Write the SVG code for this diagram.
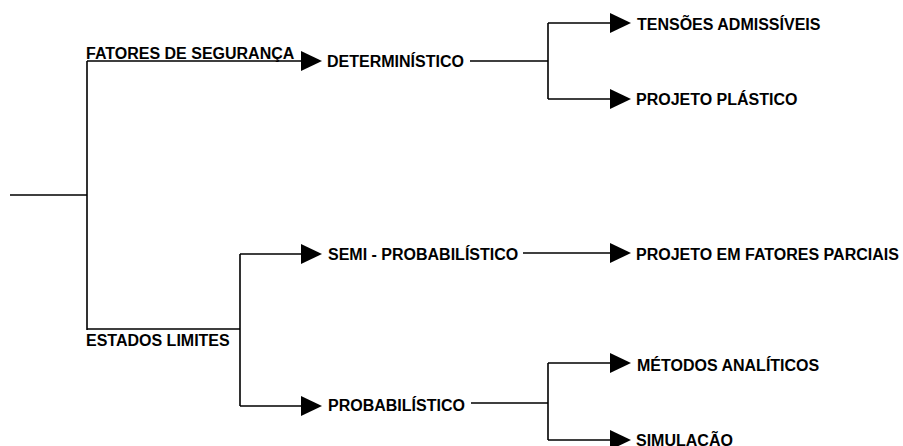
<svg xmlns="http://www.w3.org/2000/svg" width="903" height="446" viewBox="0 0 903 446">
<defs>
<style>
.t{font-family:"Liberation Sans",Arial,sans-serif;font-weight:bold;font-size:16px;fill:#000}
.c{fill:none;stroke:#000;stroke-width:1.6}
.a{fill:#000}
</style>
<polygon id="ah" points="0,-10 21,0 0,10" class="a"/>
</defs>
<rect width="903" height="446" fill="#fff"/>
<g id="connectors">
<path class="c" d="M10,195 H87 M87,61 V330 M87,61 H301 M87,329 H240 M240,254 V406 M240,254 H301 M240,406 H301"/>
<path class="c" d="M470,61 H548 M548,23 V99 M548,23 H611 M548,99 H611"/>
<path class="c" d="M523,253 H611"/>
<path class="c" d="M471,403 H548 M548,363 V440 M548,363 H611 M548,440 H611"/>
<use href="#ah" x="301" y="61"/>
<use href="#ah" x="301" y="254"/>
<use href="#ah" x="301" y="406"/>
<use href="#ah" x="610" y="23"/>
<use href="#ah" x="610" y="99"/>
<use href="#ah" x="610" y="253"/>
<use href="#ah" x="610" y="363"/>
<use href="#ah" x="610" y="440"/>
</g>
<g id="fatores"><text class="t" x="86" y="59">FATORES DE SEGURANÇA</text></g>
<g id="estados"><text class="t" x="86" y="346">ESTADOS LIMITES</text></g>
<g id="deterministico"><text class="t" x="327" y="67">DETERMINÍSTICO</text></g>
<g id="semi"><text class="t" x="328" y="260">SEMI - PROBABILÍSTICO</text></g>
<g id="probabilistico"><text class="t" x="328" y="411">PROBABILÍSTICO</text></g>
<g id="tensoes"><text class="t" x="637" y="30">TENSÕES ADMISSÍVEIS</text></g>
<g id="plastico"><text class="t" x="636" y="105">PROJETO PLÁSTICO</text></g>
<g id="parciais"><text class="t" x="636" y="260">PROJETO EM FATORES PARCIAIS</text></g>
<g id="metodos"><text class="t" x="637" y="371">MÉTODOS ANALÍTICOS</text></g>
<g id="simulacao"><text class="t" x="636" y="446">SIMULAÇÃO</text></g>
</svg>
